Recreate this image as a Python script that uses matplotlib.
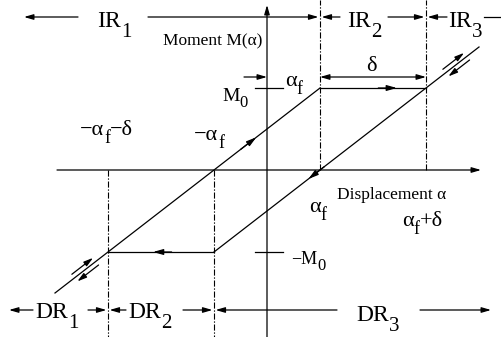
import matplotlib
matplotlib.use("Agg")
import matplotlib.pyplot as plt
from matplotlib.patches import FancyArrowPatch
from matplotlib.transforms import IdentityTransform, offset_copy

plt.rcParams['font.family'] = ['Liberation Serif', 'DejaVu Serif']

# Elasto-plastic hysteresis loop parameters
alpha_f = 1.0      # yield displacement
delta = 2.0        # plastic slip length
M0 = 1.0           # yield moment
alpha_end = 4.0    # extent of the drawn elastic branches

k = M0 / (2 * alpha_f)                       # elastic stiffness
upper_alpha = [-alpha_end, alpha_f]          # loading branch
upper_M = [k * (a + alpha_f) for a in upper_alpha]
lower_alpha = [-alpha_f, alpha_end]          # unloading branch
lower_M = [k * (a - alpha_f) for a in lower_alpha]
top_alpha = [alpha_f, alpha_f + delta]       # positive slip plateau
bottom_alpha = [-alpha_f - delta, -alpha_f]  # negative slip plateau

# Canvas geometry (pixels)
W, H = 502, 337
OX, OY = 267, 170      # origin of the moment/displacement axes
SX, SY = 53, 82        # pixels per unit displacement / moment


def P(px, py):
    """Pixel position -> data coordinates."""
    return ((px - OX) / SX, (OY - py) / SY)


fig = plt.figure(figsize=(W / 100, H / 100), dpi=100)
ax = fig.add_axes([0, 0, 1, 1])
ax.set_xlim(P(0, 0)[0], P(W, 0)[0])
ax.set_ylim(P(0, H)[1], P(0, 0)[1])
ax.axis('off')

LW = 0.9
DASH = (0, (5.5, 1.6, 1.2, 1.6))


def arrow(p0, p1, lw=LW, hl=0.55, hw=0.16, style='-|>', transform=None):
    kw = {}
    if transform is not None:
        kw['transform'] = transform
    a = FancyArrowPatch(p0, p1, arrowstyle=f'{style},head_length={hl},head_width={hw}',
                        mutation_scale=10, lw=lw, color='black',
                        shrinkA=0, shrinkB=0, **kw)
    ax.add_patch(a)


top_edge = P(0, 0)[1]
bot_edge = P(0, H)[1]

# axes
arrow(P(OX, H), P(OX, 5))
x_left = P(57, 0)[0]
x_right = P(481, 0)[0]
arrow((x_left, 0), (x_right, 0))

# M0 / -M0 ticks
tick_l, tick_r = P(255, 0)[0], P(283, 0)[0]
ax.plot([tick_l, tick_r], [M0, M0], color='black', lw=LW)
ax.plot([tick_l, tick_r], [-M0, -M0], color='black', lw=LW)

# region boundaries
for a in (alpha_f, alpha_f + delta):
    ax.plot([a, a], [0, top_edge], color='black', lw=0.8, ls=DASH)
for a in (-alpha_f - delta, -alpha_f):
    ax.plot([a, a], [0, bot_edge], color='black', lw=0.8, ls=DASH)

# hysteresis loop
ax.plot(upper_alpha, upper_M, color='black', lw=LW)
ax.plot(lower_alpha, lower_M, color='black', lw=LW)
ax.plot(top_alpha, [M0, M0], color='black', lw=LW)
ax.plot(bottom_alpha, [-M0, -M0], color='black', lw=LW)

# direction heads on the loop
def branch_head(a_tip, a_back, offset):
    arrow((a_back, k * (a_back + offset)), (a_tip, k * (a_tip + offset)), hl=0.6, hw=0.17)

branch_head(-0.2, -0.5, alpha_f)
branch_head(0.78, 1.08, -alpha_f)
arrow((2.1, M0), (2.45, M0), hl=0.6, hw=0.17)
arrow((-1.8, -M0), (-2.15, -M0), hl=0.6, hw=0.17)

# paired arrows beside the loop tips
ux, uy = 0.791, 0.612          # unit direction of the elastic branch on screen
gap = 4.5
half = 0.2
for a_c, off in ((3.57, -alpha_f), (-3.43, alpha_f)):
    a0, a1 = a_c - half, a_c + half
    p0 = (a0, k * (a0 + off))
    p1 = (a1, k * (a1 + off))
    t_up = offset_copy(ax.transData, fig=fig, x=-gap * uy, y=gap * ux, units='dots')
    t_dn = offset_copy(ax.transData, fig=fig, x=gap * uy, y=-gap * ux, units='dots')
    arrow(p0, p1, transform=t_up)
    arrow(p1, p0, transform=t_dn)

# alpha_f marker and delta span
y_mark = P(0, 77)[1]
arrow((P(244, 0)[0], y_mark), (0, y_mark))
arrow((alpha_f, y_mark), (alpha_f + delta, y_mark), style='<|-|>')

# region arrows along the top
y_top = P(0, 17)[1]
arrow((P(78, 0)[0], y_top), (P(24, 0)[0], y_top))
arrow((P(148, 0)[0], y_top), (alpha_f - 0.03, y_top))
arrow((P(340, 0)[0], y_top), (alpha_f + 0.03, y_top))
arrow((P(388, 0)[0], y_top), (alpha_f + delta - 0.03, y_top))
arrow((P(447, 0)[0], y_top), (alpha_f + delta + 0.03, y_top))
ax.plot([P(484, 0)[0], P(W, 0)[0]], [y_top, y_top], color='black', lw=LW)

# region arrows along the bottom
y_bot = P(0, 310)[1]
arrow((P(33, 0)[0], y_bot), (P(9, 0)[0], y_bot))
arrow((P(88, 0)[0], y_bot), (-alpha_f - delta - 0.03, y_bot))
arrow((P(126, 0)[0], y_bot), (-alpha_f - delta + 0.03, y_bot))
arrow((P(183, 0)[0], y_bot), (-alpha_f - 0.03, y_bot))
arrow((P(337, 0)[0], y_bot), (-alpha_f + 0.03, y_bot))
arrow((P(420, 0)[0], y_bot), (P(491, 0)[0], y_bot))

# text
fig.canvas.draw()
renderer = fig.canvas.get_renderer()


def label(px, py, parts):
    """parts: (text, fontsize, drop_px) written left to right from baseline (px, py)."""
    x = px
    for text, size, drop in parts:
        t = ax.text(x, H - py - drop, text, fontsize=size, transform=IdentityTransform(),
                    ha='left', va='baseline', color='black')
        x = t.get_window_extent(renderer).x1


MINUS = '\u2212'
label(97, 27, [('IR', 17, 0), ('1', 15, 10)])
label(347, 27, [('IR', 17, 0), ('2', 15, 10)])
label(448, 27, [('IR', 17, 0), ('3', 15, 10)])
label(35, 318, [('DR', 17, 0), ('1', 15, 10)])
label(128, 318, [('DR', 17, 0), ('2', 15, 10)])
label(356, 321, [('DR', 17, 0), ('3', 15, 10)])

label(163, 45, [('Moment M(\u03b1)', 12.5, 0)])
label(337, 199, [('Displacement \u03b1', 12.5, 0)])

label(222, 101, [('M', 14, 0), ('0', 12, 6)])
label(291, 264, [(MINUS + 'M', 13, 0), ('0', 12, 6)])
label(285, 86, [('\u03b1', 16, 0), ('f', 13, 8)])
label(309, 212, [('\u03b1', 16, 0), ('f', 13, 8)])
label(402, 226, [('\u03b1', 16, 0), ('f', 13, 8), ('+\u03b4', 16, 0)])
label(194, 140, [(MINUS + '\u03b1', 16, 0), ('f', 13, 8)])
label(80, 135, [(MINUS + '\u03b1', 16, 0), ('f', 13, 8), (MINUS + '\u03b4', 16, 0)])
label(366, 71, [('\u03b4', 16, 0)])

fig.savefig('out.png', dpi=100)
